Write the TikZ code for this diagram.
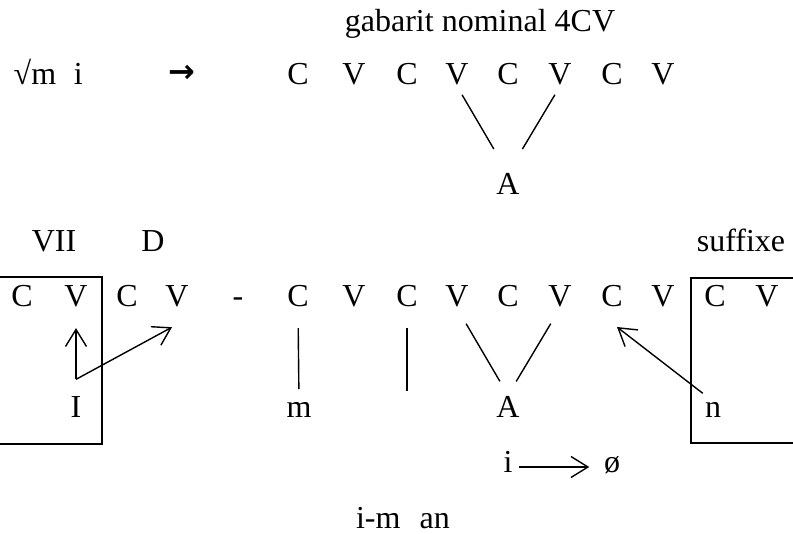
\documentclass[tikz,border=0pt]{standalone}
\usepackage{fontspec}
\setmainfont{Liberation Serif}
\newfontfamily\arrowfont{DejaVu Sans}
\usetikzlibrary{arrows.meta,calc}

\begin{document}
\begin{tikzpicture}[x=0.5pt, y=-0.5pt, line width=0.7pt,
  >={Straight Barb[length=8.5pt,width=10.5pt]},
  seg/.style={anchor=base, inner sep=0pt, font=\fontsize{16}{19}\selectfont}]
  \useasboundingbox (0,0) rectangle (793,534);
  % Root and nominal template
  \node[seg, anchor=base west] (root) at (13,85) {√m\hspace{0.55em}i};
  \node[seg] (deriv) at (182,83) {\arrowfont\bfseries →};
  \node[seg] (gabarit) at (480,32) {gabarit nominal 4CV};
  \foreach \x/\s [count=\i] in {298/C,354/V,407/C,457/V,508/C,560/V,612/C,663/V}
    \node[seg] (t\i) at (\x,85) {\s};
  \node[seg] (tA) at (508,195) {A};
  \draw[shorten <=5pt, shorten >=14pt] (t4.south) -- (tA.north);
  \draw[shorten <=5pt, shorten >=14pt] (t6.south) -- (tA.north);
  % Derived form
  \node[seg] (vii) at (54,252) {VII};
  \node[seg] (dd) at (153,252) {D};
  \node[seg] (suffixe) at (741,252) {suffixe};
  \foreach \x/\s [count=\i] in {22/C,76/V,127/C,177/V,298/C,354/V,407/C,457/V,508/C,560/V,612/C,663/V,715/C,767/V}
    \node[seg] (b\i) at (\x,307) {\s};
  \node[seg] (tiret) at (238,307) {-};
  \node[seg] (bI) at (76,417) {I};
  \node[seg] (bm) at (299,417) {m};
  \node[seg] (bA) at (508,417) {A};
  \node[seg] (bn) at (713,417) {n};
  \draw (0,277) -| (102,444) -- (0,444);
  \draw (793,278) -| (691,443) -- (793,443);
  \draw[shorten <=10pt, shorten >=6pt] (b5.south) -- (bm.north);
  \draw[shorten <=10pt] (b7.south) -- ++(0,83);
  \draw[shorten <=9pt, shorten >=8pt] (b8.south) -- (bA.north);
  \draw[shorten <=9pt, shorten >=8pt] (b10.south) -- (bA.north);
  \coordinate (fork) at ($(bI.north)+(0,-16)$);
  \draw[->] (fork) -- ([yshift=-10pt]b2.south);
  \draw[->] (fork) -- ([shift={(-5,19)}]b4.south);
  \draw[->, shorten <=6.5pt] (bn.north) -- ([shift={(5,19)}]b11.south);
  % Vowel deletion and result
  \node[seg] (bi) at (508,473) {i};
  \node[seg] (bo) at (612,473) {ø};
  \draw[->] ([shift={(6,-6)}]bi.base east) -- ([shift={(-14,-6)}]bo.base west);
  \node[seg] (result) at (403,528) {i-m\hspace{0.6em}an};
\end{tikzpicture}
\end{document}
